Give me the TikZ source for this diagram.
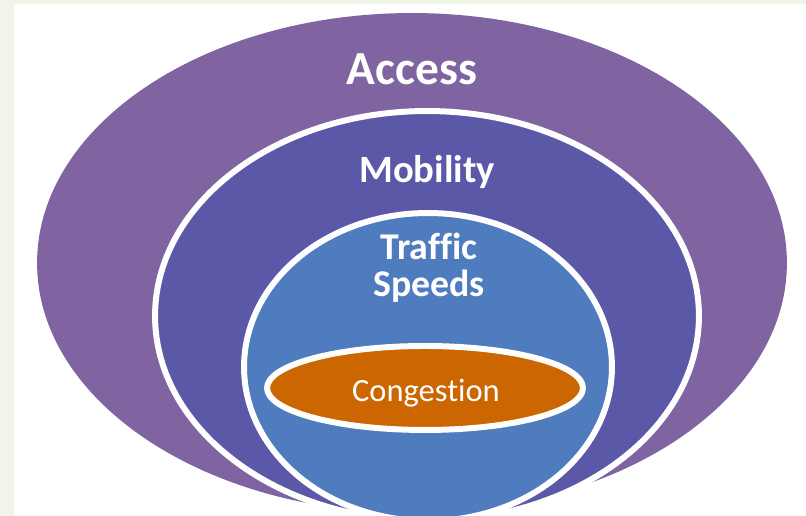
\documentclass[tikz,border=0pt]{standalone}
\usepackage{fontspec}
\setmainfont[Ligatures=NoCommon]{Carlito}
\usepackage{tikz}
\usetikzlibrary{shapes.geometric}
\definecolor{accesspurple}{HTML}{8064A2}
\definecolor{mobilityblue}{HTML}{5C58A8}
\definecolor{speedblue}{HTML}{4F7CBE}
\definecolor{congorange}{HTML}{CC6600}
\definecolor{pagegreen}{HTML}{F0F5E8}
\tikzset{
  layer/.style={ellipse,inner sep=0pt,draw=white,line width=3.4pt},
  lbl/.style={text=white,anchor=base,inner sep=0pt}
}

\begin{document}
\begin{tikzpicture}[x=0.02cm,y=0.02cm]
\useasboundingbox (0,0) rectangle (806,516);
\fill[pagegreen] (0,0) rectangle (806,516);
\fill[white] (14,0) rectangle (806,512);
\clip (14,0) rectangle (806,512);
% nested layers, outside in
\node[ellipse,inner sep=0pt,fill=accesspurple,minimum width=15cm,minimum height=10cm] (access) at (412,253) {};
\node[layer,fill=mobilityblue,minimum width=10.88cm,minimum height=8.2cm] (mobility) at (427,200) {};
\node[layer,fill=speedblue,minimum width=7.36cm,minimum height=6.16cm] (speeds) at (428,149) {};
\node[layer,fill=congorange,minimum width=6.32cm,minimum height=1.68cm] (congestion) at (425,128) {};
% labels
\node[lbl,font=\bfseries\fontsize{27}{30}\selectfont] (accesslbl) at (412,431) {Access};
\node[lbl,font=\bfseries\fontsize{22}{26}\selectfont] (mobilitylbl) at (427,333) {Mobility};
\node[lbl,font=\bfseries\fontsize{21.5}{24}\selectfont] (trafficlbl) at (429,256) {Traffic};
\node[lbl,font=\bfseries\fontsize{21.5}{24}\selectfont] (speedslbl) at (429,219) {Speeds};
\node[lbl,font=\fontsize{18.5}{22}\selectfont] (congestionlbl) at (426,114) {Congestion};
\end{tikzpicture}
\end{document}
